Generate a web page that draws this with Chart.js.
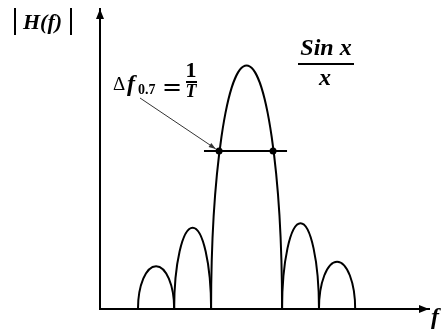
<!DOCTYPE html>
<html>
<head>
<meta charset="utf-8">
<script src="https://cdn.jsdelivr.net/npm/chart.js@4"></script>
<style>
  html, body { margin: 0; padding: 0; background: #fff; }
</style>
</head>
<body>
<canvas id="sinc" width="444" height="331"></canvas>
<script>
// lobes of |H(f)|: edges in units of 1/T, peak heights
const lobeStart = [-3.06, -2.04, -1.0, 1.0, 2.04];
const lobeEnd   = [-2.04, -1.0, 1.0, 2.04, 3.06];
const lobePeak  = [0.19, 0.36, 1.08, 0.38, 0.21];

// bandwidth level and where it crosses the main lobe
const levelValue = 0.7;
const levelFrom = -1.2;
const levelTo = 1.14;
const crossings = [-0.775, 0.746];

const fMin = -4.13, fMax = 5.14;
const hMax = 1.33;

const SERIF = '"Liberation Serif", "Times New Roman", serif';

const lobes = {
  id: 'lobes',
  beforeDatasetsDraw(chart) {
    const {ctx, scales: {x, y}} = chart;
    const base = y.getPixelForValue(0);
    ctx.save();
    ctx.strokeStyle = '#000';
    ctx.lineWidth = 2;
    lobeStart.forEach((s, i) => {
      const x0 = x.getPixelForValue(s);
      const x1 = x.getPixelForValue(lobeEnd[i]);
      const top = y.getPixelForValue(lobePeak[i]);
      ctx.beginPath();
      ctx.ellipse((x0 + x1) / 2, base, (x1 - x0) / 2, base - top, 0, Math.PI, 2 * Math.PI);
      ctx.stroke();
    });
    ctx.restore();
  }
};

function arrowHead(ctx, tx, ty, ang, len, half) {
  ctx.beginPath();
  ctx.moveTo(tx, ty);
  ctx.lineTo(tx - len * Math.cos(ang) + half * Math.sin(ang), ty - len * Math.sin(ang) - half * Math.cos(ang));
  ctx.lineTo(tx - len * Math.cos(ang) - half * Math.sin(ang), ty - len * Math.sin(ang) + half * Math.cos(ang));
  ctx.closePath();
  ctx.fill();
}

const decorations = {
  id: 'decorations',
  afterDraw(chart) {
    const {ctx, chartArea: a, scales: {x, y}} = chart;
    ctx.save();
    ctx.fillStyle = '#000';
    ctx.strokeStyle = '#000';

    // axis arrows
    arrowHead(ctx, a.left, a.top, -Math.PI / 2, 10, 4);
    arrowHead(ctx, a.right, a.bottom, 0, 10, 4);

    // pointer from the label to the left crossing
    const px = x.getPixelForValue(crossings[0]);
    const py = y.getPixelForValue(levelValue);
    const sx = 140, sy = 98;
    const ang = Math.atan2(py - sy, px - sx);
    const ex = px - 4 * Math.cos(ang), ey = py - 4 * Math.sin(ang);
    ctx.strokeStyle = '#333';
    ctx.fillStyle = '#333';
    ctx.lineWidth = 1;
    ctx.beginPath();
    ctx.moveTo(sx, sy);
    ctx.lineTo(ex, ey);
    ctx.stroke();
    arrowHead(ctx, ex, ey, ang, 7, 2.5);

    ctx.fillStyle = '#000';
    ctx.strokeStyle = '#000';
    ctx.textBaseline = 'alphabetic';

    // |H(f)|
    ctx.lineWidth = 2;
    ctx.beginPath();
    ctx.moveTo(15, 8); ctx.lineTo(15, 35);
    ctx.moveTo(71, 8); ctx.lineTo(71, 35);
    ctx.stroke();
    ctx.font = 'italic bold 22px ' + SERIF;
    ctx.textAlign = 'left';
    ctx.fillText('H(f)', 23, 29);

    // Δf0.7 = 1/T
    ctx.font = '19px ' + SERIF;
    ctx.fillText('\u0394', 113, 90);
    ctx.font = 'italic bold 24px ' + SERIF;
    ctx.fillText('f', 127, 91);
    ctx.font = 'bold 14px ' + SERIF;
    ctx.fillText('0.7', 138, 94);
    ctx.font = '24px "DejaVu Sans", sans-serif';
    ctx.fillText('=', 162, 95);
    ctx.textAlign = 'center';
    ctx.font = 'bold 22px ' + SERIF;
    ctx.fillText('1', 191, 77);
    ctx.fillRect(186, 81, 11, 2);
    ctx.font = 'italic bold 18px ' + SERIF;
    ctx.fillText('T', 191, 97);

    // Sin x / x
    ctx.font = 'italic bold 24px ' + SERIF;
    ctx.fillText('Sin x', 326, 55);
    ctx.fillRect(298, 63, 56, 2);
    ctx.fillText('x', 325, 85);

    // f on the horizontal axis
    ctx.textAlign = 'left';
    ctx.fillText('f', 431, 324);

    ctx.restore();
  }
};

new Chart(document.getElementById('sinc'), {
  type: 'scatter',
  data: {
    datasets: [
      {
        data: [{x: levelFrom, y: levelValue}, {x: levelTo, y: levelValue}],
        showLine: true,
        borderColor: '#000',
        borderWidth: 2,
        pointRadius: 0
      },
      {
        data: crossings.map(c => ({x: c, y: levelValue})),
        pointRadius: 3.5,
        pointBackgroundColor: '#000',
        pointBorderColor: '#000',
        pointBorderWidth: 0
      }
    ]
  },
  options: {
    responsive: false,
    animation: false,
    layout: {padding: {left: 100, top: 9, right: 15, bottom: 22}},
    plugins: {legend: {display: false}, tooltip: {enabled: false}},
    scales: {
      x: {
        type: 'linear', min: fMin, max: fMax,
        ticks: {display: false},
        grid: {display: false, drawTicks: false},
        border: {color: '#000', width: 2}
      },
      y: {
        type: 'linear', min: 0, max: hMax,
        ticks: {display: false},
        grid: {display: false, drawTicks: false},
        border: {color: '#000', width: 2}
      }
    }
  },
  plugins: [lobes, decorations]
});
</script>
</body>
</html>
